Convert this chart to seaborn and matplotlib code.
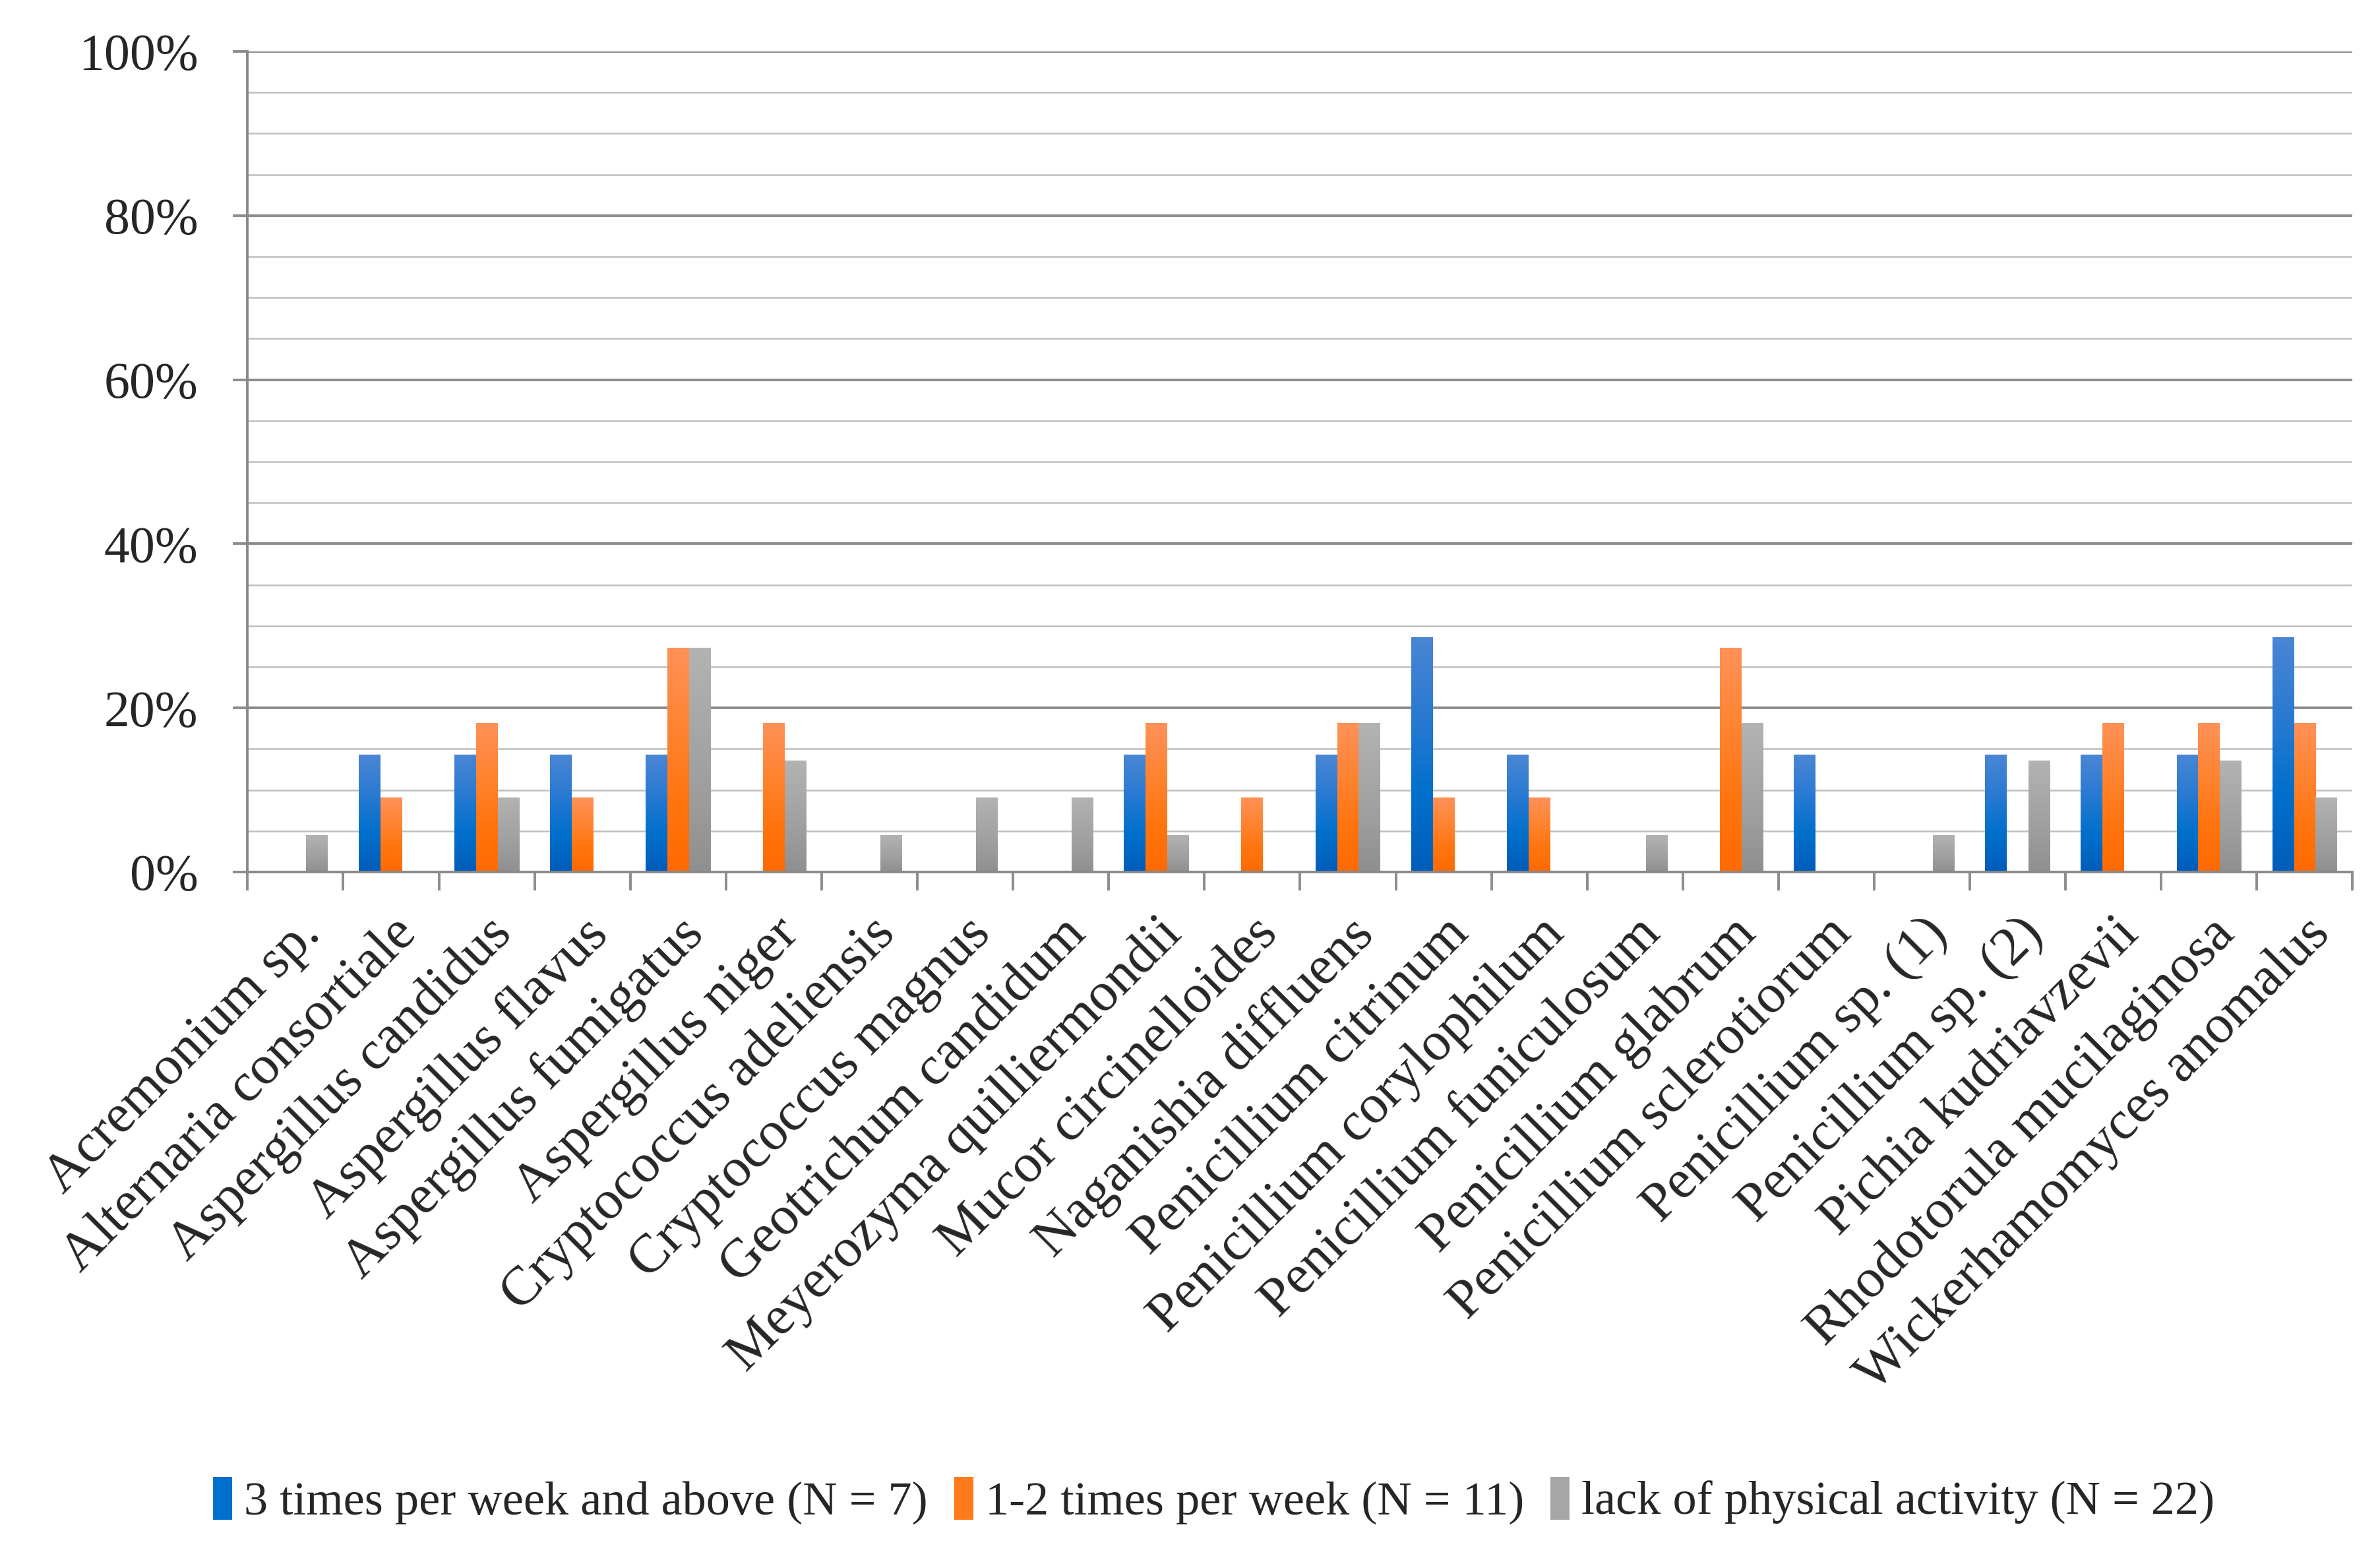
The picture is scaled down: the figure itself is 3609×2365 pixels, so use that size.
import numpy as np
import pandas as pd
import matplotlib
matplotlib.use("Agg")
import matplotlib.pyplot as plt
import seaborn as sns
from matplotlib.ticker import PercentFormatter, MultipleLocator
from matplotlib.colors import LinearSegmentedColormap
from matplotlib.patches import Rectangle

species = [
    "Acremonium sp.", "Alternaria consortiale", "Aspergillus candidus",
    "Aspergillus flavus", "Aspergillus fumigatus", "Aspergillus niger",
    "Cryptococcus adeliensis", "Cryptococcus magnus", "Geotrichum candidum",
    "Meyerozyma quilliermondii", "Mucor circinelloides", "Naganishia diffluens",
    "Penicillium citrinum", "Penicillium corylophilum", "Penicillium funiculosum",
    "Penicillium glabrum", "Penicillium sclerotiorum", "Penicillium sp. (1)",
    "Penicillium sp. (2)", "Pichia kudriavzevii", "Rhodotorula mucilaginosa",
    "Wickerhamomyces anomalus",
]
groups = ["3 times per week and above (N = 7)",
          "1-2 times per week (N = 11)",
          "lack of physical activity (N = 22)"]

freq_3plus = [0, 14.3, 14.3, 14.3, 14.3, 0, 0, 0, 0, 14.3, 0, 14.3,
              28.6, 14.3, 0, 0, 14.3, 0, 14.3, 14.3, 14.3, 28.6]
freq_1_2 = [0, 9.1, 18.2, 9.1, 27.3, 18.2, 0, 0, 0, 18.2, 9.1, 18.2,
            9.1, 9.1, 0, 27.3, 0, 0, 0, 18.2, 18.2, 18.2]
freq_none = [4.5, 0, 9.1, 0, 27.3, 13.6, 4.5, 9.1, 9.1, 4.5, 0, 18.2,
             0, 0, 4.5, 18.2, 0, 4.5, 13.6, 0, 13.6, 9.1]

rows = []
for g, vals in zip(groups, [freq_3plus, freq_1_2, freq_none]):
    for s, v in zip(species, vals):
        rows.append({"species": s, "group": g, "value": v / 100.0})
df = pd.DataFrame(rows)

base_colors = ["#0070CC", "#FF7A1A", "#A6A6A6"]
grad_stops = [
    ["#4A86D4", "#2A7AD2", "#0070CC", "#005DBA"],
    ["#FF9158", "#FF8534", "#FF7510", "#FF6A00"],
    ["#B3B3B3", "#A8A8A8", "#9D9D9D", "#8F8F8F"],
]

sns.set_theme(style="white")
plt.rcParams["font.family"] = ["Liberation Serif", "DejaVu Serif"]

fig = plt.figure(figsize=(18.045, 11.825), dpi=200)
ax = fig.add_axes([0.104, 0.441, 0.8845, 0.526])

sns.barplot(data=df, x="species", y="value", hue="group", order=species,
            hue_order=groups, palette=base_colors, width=0.68, gap=0,
            saturation=1, errorbar=None, legend=False, ax=ax, zorder=3)

ax.set_ylim(0, 1)
ax.set_xlim(-0.5, len(species) - 0.5)

# gradient fill per bar
ngroups = len(groups)
nsp = len(species)
patches = [p for p in ax.patches if isinstance(p, Rectangle)]
for i, p in enumerate(patches[: ngroups * nsp]):
    gi = i // nsp
    cmap = LinearSegmentedColormap.from_list("g%d" % gi, grad_stops[gi])
    h = p.get_height()
    if h <= 0:
        continue
    x0, w = p.get_x(), p.get_width()
    grad = np.linspace(0, 1, 256).reshape(-1, 1)
    im = ax.imshow(grad, cmap=cmap, aspect="auto", origin="upper",
                   extent=[x0, x0 + w, 0, h], zorder=3.5, interpolation="bicubic")
    im.set_clip_path(p)
    p.set_edgecolor("none")

ax.set_xlim(-0.5, len(species) - 0.5)
ax.set_ylim(0, 1)

# grid
ax.yaxis.set_major_locator(MultipleLocator(0.2))
ax.yaxis.set_minor_locator(MultipleLocator(0.05))
ax.yaxis.set_major_formatter(PercentFormatter(1.0, decimals=0))
ax.grid(which="minor", axis="y", color="#BFBFBF", linewidth=0.9, zorder=0)
ax.grid(which="major", axis="y", color="#8C8C8C", linewidth=1.4, zorder=0)
ax.grid(which="major", axis="x", visible=False)
ax.set_axisbelow(True)

for side in ["top", "right"]:
    ax.spines[side].set_visible(False)
for side in ["left", "bottom"]:
    ax.spines[side].set_color("#898989")
    ax.spines[side].set_linewidth(1.4)
    ax.spines[side].set_zorder(5)

ax.tick_params(axis="y", which="major", direction="out", length=8, width=1.4,
               color="#8C8C8C", labelsize=28, pad=19, left=True)
ax.tick_params(axis="y", which="minor", length=0)

# x ticks at boundaries between categories
ax.set_xticks(np.arange(len(species)))
ax.set_xticklabels(species, rotation=45, ha="right", rotation_mode="anchor",
                   fontsize=30)
ax.tick_params(axis="x", which="major", length=0, pad=20, labelsize=30)
ax.set_xticks(np.arange(len(species) + 1) - 0.5, minor=True)
ax.tick_params(axis="x", which="minor", direction="out", length=10, width=1.4,
               color="#8C8C8C", bottom=True)

ax.set_xlabel("")
ax.set_ylabel("")

handles = [Rectangle((0, 0), 1, 1, facecolor=c, edgecolor="none") for c in base_colors]
fig.legend(handles, groups, loc="center", bbox_to_anchor=(0.51, 0.038), ncol=3,
           frameon=False, fontsize=26, handlelength=0.4, handleheight=1.0,
           handletextpad=0.25, columnspacing=0.55)

fig.savefig("out.png", dpi=200, facecolor="white")
